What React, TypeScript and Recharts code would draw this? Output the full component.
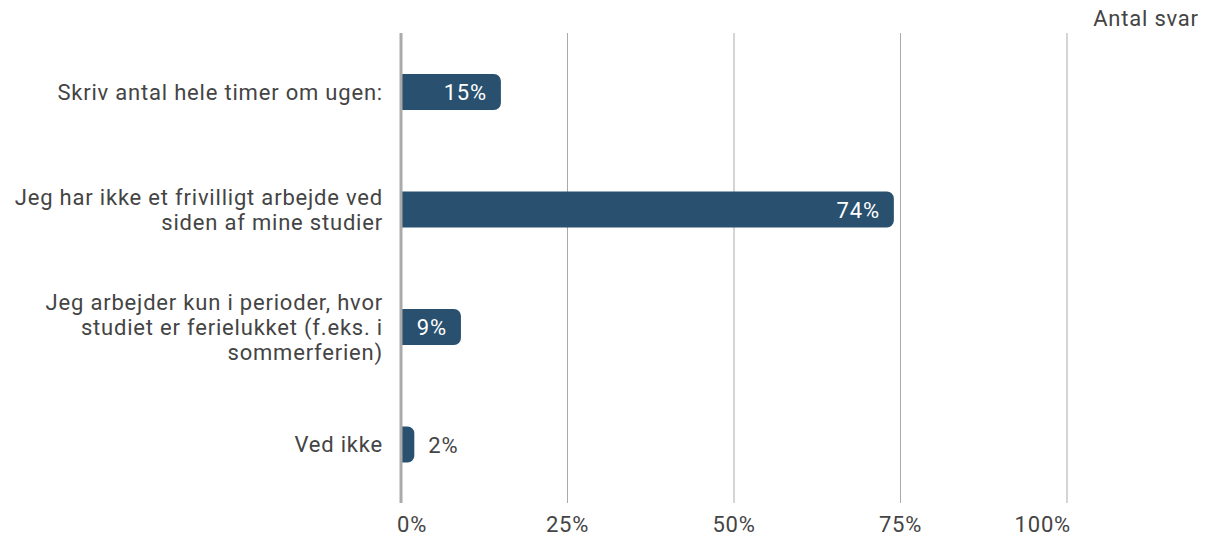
import React from "react";
import { BarChart, Bar, XAxis, YAxis, CartesianGrid, ReferenceLine, LabelList, Customized } from "recharts";

const categories = [
  "Skriv antal hele timer om ugen:",
  "Jeg har ikke et frivilligt arbejde ved\nsiden af mine studier",
  "Jeg arbejder kun i perioder, hvor\nstudiet er ferielukket (f.eks. i\nsommerferien)",
  "Ved ikke",
];
const percents = [15, 74, 9, 2];
const counts = [13, 65, 8, 2];
const xTicks = [0, 25, 50, 75, 100];
const countHeader = "Antal svar";

const data = categories.map((c, i) => ({ name: c, value: percents[i], count: counts[i] }));

const FONT = "Roboto, sans-serif";
const TEXT = "#444444";
const BAR = "#29506e";
const FS = 22;
const LS = 0.8;

const CategoryTick = (props: any) => {
  const { x, y, payload } = props;
  const lines = String(payload.value).split("\n");
  const lh = 25;
  const start = -((lines.length - 1) * lh) / 2;
  return (
    <text x={x} y={y} textAnchor="end" fill={TEXT} fontSize={FS} fontFamily={FONT} letterSpacing={LS}>
      {lines.map((l, i) => (
        <tspan key={i} x={x} dy={i === 0 ? start + 8 : lh}>{l}</tspan>
      ))}
    </text>
  );
};

const PercentTick = (props: any) => {
  const { x, y, payload, index } = props;
  const last = xTicks.length - 1;
  const anchor = index === 0 ? "start" : index === last ? "end" : "middle";
  const dx = index === 0 ? -4 : index === last ? 4 : 0;
  return (
    <text x={x + dx} y={y + 23} textAnchor={anchor} fill={TEXT} fontSize={FS} fontFamily={FONT} letterSpacing={LS}>
      {`${payload.value}%`}
    </text>
  );
};

const ValueLabel = (props: any) => {
  const { x, y, width, height, value } = props;
  const txt = `${value}%`;
  const inside = width > 40;
  return (
    <text
      x={inside ? x + width - 14 : x + width + 14}
      y={y + height / 2 + 8}
      textAnchor={inside ? "end" : "start"}
      fill={inside ? "#ffffff" : TEXT}
      fontSize={FS}
      fontFamily={FONT}
      letterSpacing={LS}
    >
      {txt}
    </text>
  );
};

const CountColumn = (props: any) => {
  const yMap = props.yAxisMap ? (Object.values(props.yAxisMap)[0] as any) : null;
  const scale = yMap?.scale;
  const bw = scale?.bandwidth ? scale.bandwidth() : 0;
  return (
    <g>
      <text x={1146} y={26} textAnchor="middle" fill={TEXT} fontSize={FS} fontFamily={FONT} letterSpacing={LS}>
        {countHeader}
      </text>
      {scale &&
        data.map((d, i) => (
          <text key={i} x={1148} y={scale(d.name) + bw / 2 + 8} textAnchor="middle" fill={TEXT} fontSize={FS} fontFamily={FONT} letterSpacing={LS}>
            {d.count}
          </text>
        ))}
    </g>
  );
};

export default function App() {
  return (
    <div style={{ position: "absolute", left: 0, top: 0, width: 1211, height: 540, background: "#fff" }}>
      <BarChart
        width={1211}
        height={540}
        data={data}
        layout="vertical"
        margin={{ top: 33, right: 144, bottom: 0, left: 0 }}
        barCategoryGap={41}
      >
        <CartesianGrid horizontal={false} vertical={true} stroke="#aaaaaa" strokeWidth={1} />
        <XAxis
          type="number"
          domain={[0, 100]}
          ticks={xTicks}
          axisLine={false}
          tickLine={false}
          tickMargin={0}
          height={37}
          tick={<PercentTick />}
          interval={0}
        />
        <YAxis
          type="category"
          dataKey="name"
          width={401}
          axisLine={false}
          tickLine={false}
          tickMargin={12}
          tick={<CategoryTick />}
          interval={0}
        />
        <ReferenceLine x={0} stroke="#aaaaaa" strokeWidth={3} />
        <Bar dataKey="value" fill={BAR} radius={[0, 7, 7, 0]} isAnimationActive={false}>
          <LabelList dataKey="value" content={<ValueLabel />} />
        </Bar>
        <Customized component={CountColumn} />
      </BarChart>
    </div>
  );
}
